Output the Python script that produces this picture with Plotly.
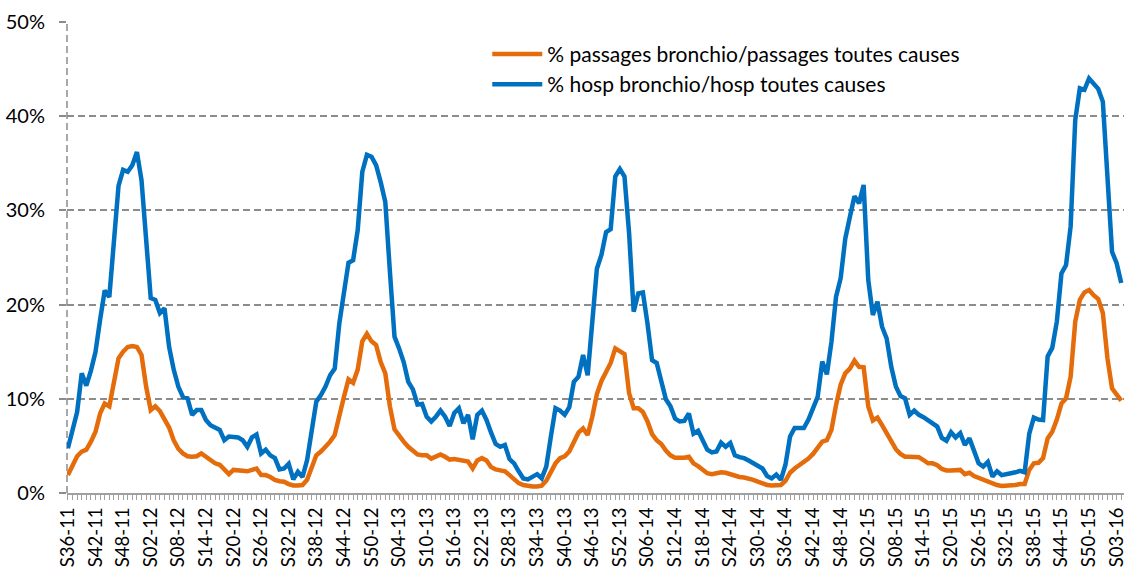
import plotly.graph_objects as go

# ---- categories: ISO weeks from S36-11 to S04-16 ----
start_year, start_week, n_weeks = 2011, 36, 230
weeks_per_year = {2011: 52, 2012: 52, 2013: 52, 2014: 52, 2015: 53, 2016: 52}
weeks = []
y, w = start_year, start_week
for _ in range(n_weeks):
    weeks.append(f"S{w:02d}-{y % 100:02d}")
    w += 1
    if w > weeks_per_year[y]:
        w, y = 1, y + 1

tick_every = 6
y_ticks = [0, 10, 20, 30, 40, 50]
y_tick_text = [f"{v}%" for v in y_ticks]

# ---- series (%) ----
passages = [
    1.9, 3.0, 3.9, 4.4, 4.6, 5.45, 6.5, 8.45, 9.5, 9.2,
    12.0, 14.3, 15.0, 15.5, 15.6, 15.5, 14.65, 11.3, 8.8, 9.2,
    8.7, 7.9, 6.95, 5.6, 4.7, 4.2, 3.9, 3.85, 3.9, 4.2,
    3.85, 3.4, 3.15, 3.0, 2.5, 2.0, 2.45, 2.45, 2.35, 2.3,
    2.5, 2.6, 1.9, 1.9, 1.7, 1.4, 1.25, 1.2, 0.95, 0.8,
    0.8, 0.85, 1.4, 2.8, 4.0, 4.4, 4.85, 5.45, 6.15, 8.45,
    10.2, 12.06, 11.7, 13.1, 16.1, 16.9, 16.1, 15.7, 13.9, 12.7,
    9.2, 6.75, 6.0, 5.45, 4.9, 4.5, 4.1, 4.0, 4.0, 3.65,
    3.85, 4.1, 3.85, 3.55, 3.6, 3.55, 3.45, 3.35, 2.6, 3.45,
    3.7, 3.45, 2.75, 2.5, 2.4, 2.3, 1.9, 1.4, 1.05, 0.85,
    0.75, 0.7, 0.7, 0.78, 1.3, 2.3, 3.15, 3.7, 3.9, 4.4,
    5.45, 6.4, 6.85, 6.15, 8.1, 10.5, 11.9, 12.9, 13.8, 15.35,
    15.0, 14.75, 10.6, 9.0, 9.0, 8.6, 7.6, 6.25, 5.6, 5.2,
    4.5, 4.0, 3.75, 3.7, 3.75, 3.85, 3.15, 2.85, 2.45, 2.1,
    2.0, 2.1, 2.2, 2.15, 2.0, 1.8, 1.7, 1.65, 1.55, 1.4,
    1.2, 1.0, 0.85, 0.8, 0.85, 0.85, 1.3, 2.15, 2.6, 2.95,
    3.2, 3.65, 4.15, 4.75, 5.45, 5.6, 6.7, 9.35, 11.5, 12.7,
    13.2, 14.05, 13.4, 13.35, 9.2, 7.7, 8.0, 7.2, 6.3, 5.35,
    4.65, 4.15, 3.85, 3.85, 3.85, 3.8, 3.5, 3.15, 3.15, 2.95,
    2.55, 2.4, 2.4, 2.45, 2.45, 2.0, 2.15, 1.8, 1.6, 1.4,
    1.2, 0.95, 0.85, 0.75, 0.75, 0.75, 0.85, 0.95, 0.95, 2.45,
    3.15, 3.2, 3.7, 5.8, 6.5, 7.8, 9.5, 10.05, 12.35, 18.2,
    20.5, 21.3, 21.55, 21.0, 20.6, 19.1, 14.3, 11.1, 10.4, 9.8,
]

hosp = [
    4.75, 6.6, 8.6, 12.7, 11.4, 13.0, 15.0, 18.4, 21.5, 20.8,
    26.8, 32.6, 34.3, 34.1, 34.8, 36.2, 33.2, 26.5, 20.7, 20.5,
    19.1, 19.6, 15.5, 13.1, 11.3, 10.2, 10.05, 8.3, 8.8, 8.8,
    7.75, 7.2, 7.0, 6.7, 5.6, 6.0, 5.95, 5.9, 5.6, 4.9,
    5.9, 6.2, 4.2, 4.6, 4.0, 3.7, 2.5, 2.6, 3.1, 1.45,
    2.25, 1.7, 3.5, 6.3, 9.7, 10.4, 11.3, 12.5, 13.2, 18.0,
    21.2, 24.45, 24.7, 27.9, 34.1, 35.9, 35.7, 34.8, 33.0, 30.9,
    23.5, 16.6, 15.35, 13.9, 11.8, 11.0, 9.4, 9.45, 8.1, 7.6,
    8.1, 8.75, 8.1, 7.1, 8.5, 9.0, 7.4, 8.3, 5.7, 8.3,
    8.75, 7.75, 6.4, 5.2, 4.9, 5.1, 3.6, 3.15, 2.3, 1.55,
    1.45, 1.75, 2.0, 1.55, 2.8, 6.0, 9.0, 8.75, 8.3, 9.1,
    11.8, 12.35, 14.65, 12.5, 18.5, 23.8, 25.3, 27.7, 28.0, 33.6,
    34.4, 33.6, 27.6, 19.25, 21.2, 21.3, 18.0, 14.1, 13.8, 12.0,
    9.95, 9.2, 7.9, 7.6, 7.65, 8.45, 6.3, 6.6, 5.7, 4.6,
    4.3, 4.4, 5.35, 4.9, 5.3, 4.0, 3.8, 3.7, 3.45, 3.15,
    2.9, 2.6, 1.8, 1.55, 1.95, 1.4, 3.0, 6.0, 6.9, 6.85,
    6.9, 7.8, 8.9, 10.2, 13.95, 12.6, 16.05, 20.85, 22.8, 27.0,
    29.3, 31.5, 30.75, 32.7, 22.6, 18.9, 20.3, 17.65, 16.4, 13.4,
    11.3, 10.3, 10.05, 8.3, 8.75, 8.3, 8.05, 7.7, 7.3, 7.05,
    5.85, 5.55, 6.45, 5.9, 6.35, 5.1, 5.8, 4.4, 3.15, 2.8,
    3.3, 1.75, 2.3, 1.9, 2.05, 2.1, 2.2, 2.35, 2.2, 6.3,
    8.0, 7.8, 7.75, 14.5, 15.4, 18.2, 23.3, 24.2, 28.3, 39.6,
    42.96, 42.8, 44.0, 43.5, 42.9, 41.55, 34.3, 25.6, 24.4, 22.3,
]

assert len(passages) == n_weeks and len(hosp) == n_weeks

series_names = ["% passages bronchio/passages toutes causes",
                "% hosp bronchio/hosp toutes causes"]
series_colors = ["#E46C0A", "#0070C0"]

x_idx = list(range(n_weeks))
tick_vals = x_idx[::tick_every]
tick_text = [weeks[i] for i in tick_vals]

FONT = "Lato"
GRID = "#8C8C8C"
AXIS = "#A0A0A0"

fig = go.Figure()
for name, vals, col in zip(series_names, [passages, hosp], series_colors):
    fig.add_trace(go.Scatter(
        x=x_idx, y=vals, mode="lines", name=name,
        customdata=weeks,
        hovertemplate="%{customdata}: %{y:.1f}%<extra></extra>",
        line=dict(color=col, width=4.5),
    ))

fig.update_layout(
    width=1126, height=568,
    margin=dict(l=67, r=2, t=22, b=75, autoexpand=False),
    paper_bgcolor="white", plot_bgcolor="white",
    font=dict(family=FONT, size=20, color="#000000"),
    showlegend=True,
    legend=dict(
        x=0.3976, y=0.975, xanchor="left", yanchor="top",
        bgcolor="rgba(0,0,0,0)", font=dict(family=FONT, size=21, color="#000000"),
        itemwidth=50, tracegroupgap=0,
    ),
    xaxis=dict(
        range=[-0.2, 229.6], automargin=False,
        tickmode="array", tickvals=tick_vals, ticktext=tick_text,
        tickangle=-90, tickfont=dict(family=FONT, size=18.5, color="#000000"),
        ticklabeloverflow="allow",
        showgrid=False, zeroline=False,
        showline=True, linecolor=AXIS, linewidth=2,
        ticks="outside", ticklen=5, tickcolor=AXIS, tickwidth=1,
        minor=dict(dtick=1, tick0=0, ticks="outside", ticklen=5,
                   tickcolor=AXIS, tickwidth=1, showgrid=False),
        ticklabelstandoff=0,
    ),
    yaxis=dict(
        range=[0, 50], automargin=False,
        tickmode="array", tickvals=y_ticks, ticktext=y_tick_text,
        tickfont=dict(family=FONT, size=20, color="#000000"),
        ticklabeloverflow="allow",
        showgrid=True, gridcolor=GRID, gridwidth=1.5, griddash="7px,4px",
        zeroline=False, showline=False,
        ticks="outside", ticklen=7, tickcolor=GRID, tickwidth=1.5,
        ticklabelstandoff=10,
    ),
)

# dashed vertical axis line (as in the original)
fig.add_shape(type="line", xref="paper", yref="paper", x0=0, x1=0, y0=0, y1=1,
              line=dict(color=GRID, width=1.5, dash="7px,4px"), layer="below")

# remove the browser's default 8px page margin so the figure fills the window
fig.write_html("out.html",
               config={"displayModeBar": False},
               post_script="document.body.style.margin='0px';")
